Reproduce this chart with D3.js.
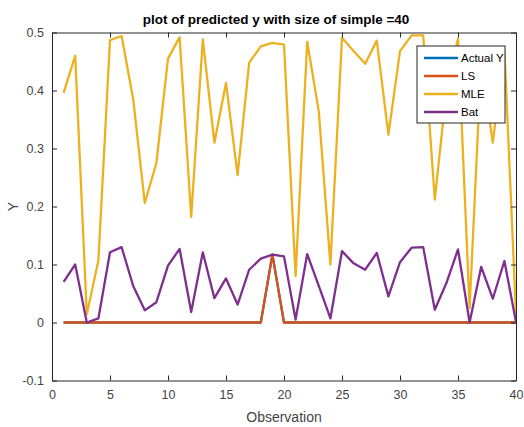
<!DOCTYPE html>
<html>
<head>
<meta charset="utf-8">
<script src="https://cdn.jsdelivr.net/npm/d3@7/dist/d3.min.js"></script>
<style>
html,body{margin:0;padding:0;background:#fff;}
svg{display:block;font-family:"Liberation Sans",Arial,Helvetica,sans-serif;}
</style>
</head>
<body>
<svg id="chart" width="524" height="427"></svg>
<script>
const observations = d3.range(1, 41);
const actualY = [0,0,0,0,0,0,0,0,0,0,0,0,0,0,0,0,0,0,0.117,0,0,0,0,0,0,0,0,0,0,0,0,0,0,0,0,0,0,0,0,0];
const lsY     = [0,0,0,0,0,0,0,0,0,0,0,0,0,0,0,0,0,0,0.117,0,0,0,0,0,0,0,0,0,0,0,0,0,0,0,0,0,0,0,0,0];
const mleY = [0.396,0.46,0.014,0.107,0.487,0.494,0.385,0.206,0.275,0.455,
              0.492,0.182,0.488,0.31,0.413,0.254,0.448,0.476,0.482,0.479,
              0.08,0.484,0.364,0.10,0.491,0.468,0.446,0.486,0.324,0.468,
              0.495,0.495,0.212,0.40,0.49,0.025,0.45,0.31,0.47,0.014];
const batY = [0.07,0.10,0.0,0.007,0.121,0.13,0.063,0.021,0.035,0.098,
              0.127,0.018,0.121,0.042,0.076,0.031,0.091,0.11,0.117,0.114,
              0.005,0.118,0.063,0.007,0.123,0.102,0.091,0.12,0.045,0.104,
              0.129,0.13,0.022,0.068,0.126,0.0,0.096,0.041,0.106,0.001];
const seriesNames = ["Actual Y","LS","MLE","Bat"];
const seriesColors = ["#0072BD","#D95319","#EDB120","#7E2F8E"];
const seriesData = [actualY, lsY, mleY, batY];
const xTicks = [0,5,10,15,20,25,30,35,40];
const yTicks = [-0.1,0,0.1,0.2,0.3,0.4,0.5];
const yTickLabels = ["-0.1","0","0.1","0.2","0.3","0.4","0.5"];

const svg = d3.select("#chart");
const L = 52, R = 516, T = 32.5, B = 380.5;
const x = d3.scaleLinear().domain([0,40]).range([L,R]);
const y = d3.scaleLinear().domain([-0.1,0.5]).range([B,T]);

svg.append("defs").append("clipPath").attr("id","clip")
  .append("rect").attr("x",L).attr("y",T).attr("width",R-L).attr("height",B-T);

const line = d3.line().x((d,i)=>x(observations[i])).y(d=>y(d));
const g = svg.append("g").attr("clip-path","url(#clip)");
seriesData.forEach((s,k)=>{
  g.append("path").datum(s).attr("d",line)
   .attr("fill","none").attr("stroke",seriesColors[k])
   .attr("stroke-width",2.3).attr("stroke-linejoin","round");
});

const tickColor = "#262626";
const labelColor = "#444";
const xb = svg.append("g").attr("transform",`translate(0,${B})`)
  .call(d3.axisBottom(x).tickValues(xTicks).tickSizeInner(-5).tickSizeOuter(0).tickPadding(10));
const xt = svg.append("g").attr("transform",`translate(0,${T})`)
  .call(d3.axisTop(x).tickValues(xTicks).tickSizeInner(-5).tickSizeOuter(0).tickFormat(""));
const yl = svg.append("g").attr("transform",`translate(${L},0)`)
  .call(d3.axisLeft(y).tickValues(yTicks).tickSizeInner(-5).tickSizeOuter(0).tickPadding(8)
    .tickFormat((d,i)=>yTickLabels[i]));
const yr = svg.append("g").attr("transform",`translate(${R},0)`)
  .call(d3.axisRight(y).tickValues(yTicks).tickSizeInner(-5).tickSizeOuter(0).tickFormat(""));
[xb,xt,yl,yr].forEach(a=>{
  a.select(".domain").attr("stroke",tickColor).attr("stroke-width",1);
  a.selectAll(".tick line").attr("stroke",tickColor);
  a.selectAll(".tick text").attr("fill",labelColor).attr("font-size",12.5)
    .attr("font-family","'Liberation Sans',Arial,sans-serif");
});

svg.append("text").attr("x",(L+R)/2 - 8).attr("y",24).attr("text-anchor","middle")
  .attr("font-weight","bold").attr("font-size",13.5).attr("fill","#000")
  .text("plot of predicted y with size of simple =40");
svg.append("text").attr("x",(L+R)/2).attr("y",422).attr("text-anchor","middle")
  .attr("font-size",14).attr("fill",labelColor).text("Observation");
svg.append("text").attr("transform",`translate(18,${(T+B)/2}) rotate(-90)`)
  .attr("text-anchor","middle").attr("font-size",14).attr("fill",labelColor).text("Y");

const lg = svg.append("g");
lg.append("rect").attr("x",417).attr("y",46).attr("width",88).attr("height",77)
  .attr("fill","#fff").attr("stroke","#262626").attr("stroke-width",1);
seriesNames.forEach((n,k)=>{
  const yy = 58 + k*18;
  lg.append("line").attr("x1",424).attr("x2",458).attr("y1",yy).attr("y2",yy)
    .attr("stroke",seriesColors[k]).attr("stroke-width",2.3);
  lg.append("text").attr("x",461).attr("y",yy+4).attr("font-size",11.5)
    .attr("fill","#000").text(n);
});
</script>
</body>
</html>
